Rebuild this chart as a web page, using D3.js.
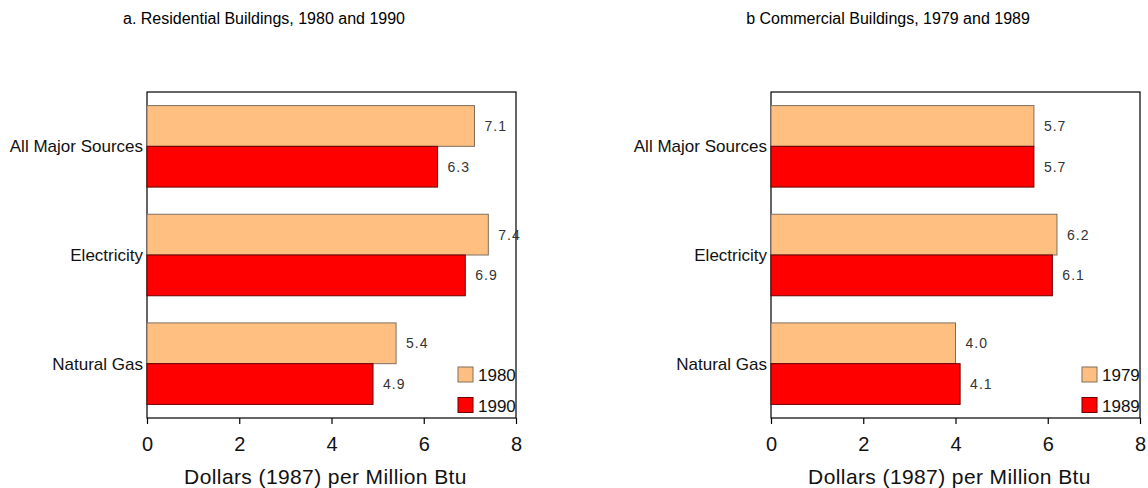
<!DOCTYPE html>
<html><head><meta charset="utf-8">
<script src="https://cdn.jsdelivr.net/npm/d3@7"></script>
<style>body{margin:0;background:#fff;} text{font-family:"Liberation Sans",Arial,sans-serif;}</style>
</head><body>
<svg id="c" width="1148" height="488"></svg>
<script>
const categories = ["All Major Sources", "Electricity", "Natural Gas"];
const resYears = ["1980", "1990"];
const res1980 = [7.1, 7.4, 5.4];
const res1990 = [6.3, 6.9, 4.9];
const comYears = ["1979", "1989"];
const com1979 = [5.7, 6.2, 4.0];
const com1989 = [5.7, 6.1, 4.1];
const xTicks = [0, 2, 4, 6, 8];
const titles = ["a. Residential Buildings, 1980 and 1990", "b Commercial Buildings, 1979 and 1989"];
const axisTitle = "Dollars (1987) per Million Btu";
const colors = ["#FFBF80", "#FF0000"];
const strokes = ["#7f6f60", "#6a0000"];

const svg = d3.select("#c");
const panels = [
  {left:147, right:516, title:titles[0], years:resYears, series:[res1980, res1990], titleX:264},
  {left:771, right:1140, title:titles[1], years:comYears, series:[com1979, com1989], titleX:888}
];
const plotTop = 92, plotBottom = 418;

panels.forEach(p => {
  const g = svg.append("g");
  const x = d3.scaleLinear().domain([0, 8]).range([p.left, p.right]);
  const y = d3.scaleBand().domain(categories).range([plotTop, plotBottom]).paddingInner(0.25).paddingOuter(0.125);
  const sub = d3.scaleBand().domain([0,1]).range([0, y.bandwidth()]);

  g.append("text").attr("x", p.titleX).attr("y", 24).attr("text-anchor","middle")
    .attr("font-size", 16).attr("fill","#000").text(p.title);

  g.append("rect").attr("x", p.left).attr("y", plotTop).attr("width", p.right-p.left).attr("height", plotBottom-plotTop)
    .attr("fill","none").attr("stroke","#000").attr("stroke-width",1.2);

  p.series.forEach((s, si) => {
    categories.forEach((c, ci) => {
      const yy = y(c) + sub(si);
      g.append("rect").attr("x", x(0)).attr("y", yy).attr("width", x(s[ci]) - x(0)).attr("height", sub.bandwidth())
        .attr("fill", colors[si]).attr("stroke", strokes[si]).attr("stroke-width", 1);
      g.append("text").attr("x", x(s[ci]) + 10).attr("y", yy + sub.bandwidth()/2 + 5)
        .attr("font-size", 14).attr("letter-spacing", 1).attr("fill","#333").text(s[ci].toFixed(1));
    });
  });

  categories.forEach(c => {
    g.append("text").attr("x", p.left - 4).attr("y", y(c) + y.bandwidth()/2 + 6)
      .attr("text-anchor","end").attr("font-size", 17).attr("fill","#111").text(c);
  });

  const ax = g.append("g").attr("transform", `translate(0,${plotBottom})`)
    .call(d3.axisBottom(x).tickValues(xTicks).tickSize(6).tickSizeOuter(0).tickFormat(d3.format("d")));
  ax.select(".domain").remove();
  ax.selectAll("line").attr("stroke","#000").attr("stroke-width",1.2);
  ax.selectAll("text").attr("font-size", 20).attr("fill","#111").attr("dy", 0).attr("y", 33)
    .style("font-family", '"Liberation Sans",Arial,sans-serif');

  g.append("text").attr("x", (p.left+p.right)/2 - 6).attr("y", 484).attr("text-anchor","middle")
    .attr("font-size", 21).attr("letter-spacing", 0.4).attr("fill","#111").text(axisTitle);

  p.years.forEach((yr, i) => {
    const ly = 367 + i*30.5;
    g.append("rect").attr("x", p.right - 58).attr("y", ly).attr("width", 15).attr("height", 15)
      .attr("fill", colors[i]).attr("stroke", strokes[i]).attr("stroke-width", 1);
    g.append("text").attr("x", p.right - 38).attr("y", ly + 14).attr("font-size", 17).attr("fill","#111").text(yr);
  });
});
</script>
</body></html>
